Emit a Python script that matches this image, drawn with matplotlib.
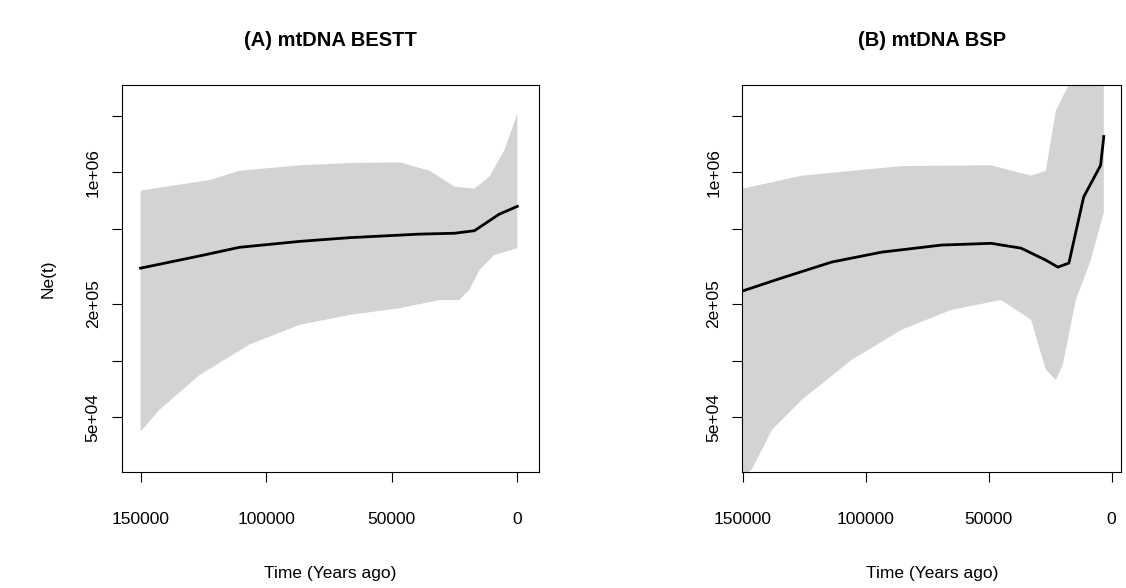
import numpy as np
import matplotlib.pyplot as plt

plt.rcParams['font.family'] = ['Liberation Sans', 'DejaVu Sans']

# panel A: mtDNA BESTT
a_med_t = [150000, 126500, 110600, 86700, 66800, 39000, 25000, 17100, 7200, 0]
a_med = [3.1e5, 3.6e5, 4.0e5, 4.3e5, 4.5e5, 4.7e5, 4.75e5, 4.9e5, 6.0e5, 6.6e5]
a_up_t = [150000, 122500, 110600, 86700, 66800, 46900, 35000, 25000, 17100, 11100, 5200, 0]
a_up = [8.0e5, 9.1e5, 1.02e6, 1.09e6, 1.12e6, 1.13e6, 1.02e6, 8.4e5, 8.2e5, 9.5e5, 1.31e6, 2.05e6]
a_lo_t = [150000, 142400, 126500, 106600, 86700, 66800, 46900, 31000, 23100, 19100, 15100, 9200, 0]
a_lo = [4.2e4, 5.5e4, 8.4e4, 1.22e5, 1.55e5, 1.75e5, 1.9e5, 2.1e5, 2.1e5, 2.38e5, 3.03e5, 3.64e5, 3.96e5]

# panel B: mtDNA BSP
b_med_t = [150000, 134200, 113900, 93600, 69300, 49100, 36900, 26800, 21900, 17400, 11400, 4500, 3200]
b_med = [2.35e5, 2.75e5, 3.34e5, 3.77e5, 4.11e5, 4.2e5, 3.96e5, 3.42e5, 3.14e5, 3.3e5, 7.4e5, 1.09e6, 1.55e6]
b_up_t = [150000, 126100, 85500, 49100, 32800, 26800, 22700, 16600, 3200]
b_up = [8.2e5, 9.6e5, 1.08e6, 1.09e6, 9.6e5, 1.02e6, 2.13e6, 3.07e6, 3.9e6]
b_lo_t = [151600, 146400, 138200, 126100, 105800, 85500, 65300, 45000, 32800, 26800, 22700, 19900, 14600, 8500, 3200]
b_lo = [2.35e4, 2.65e4, 4.3e4, 6.2e4, 1.01e5, 1.46e5, 1.86e5, 2.1e5, 1.65e5, 8.96e4, 7.9e4, 9.5e4, 2.1e5, 3.42e5, 6.14e5]

fig = plt.figure(figsize=(11.26, 5.88), dpi=100)
axA = fig.add_axes([0.108, 0.197, 0.371, 0.658])
axB = fig.add_axes([0.659, 0.197, 0.337, 0.658])


def band(ax, ut, u, lt, l):
    t = np.concatenate([ut, lt[::-1]])
    v = np.concatenate([u, l[::-1]])
    ax.fill(t, v, color='#d3d3d3', lw=0)


band(axA, np.array(a_up_t), np.array(a_up), np.array(a_lo_t), np.array(a_lo))
axA.plot(a_med_t, a_med, color='black', lw=2)
band(axB, np.array(b_up_t), np.array(b_up), np.array(b_lo_t), np.array(b_lo))
axB.plot(b_med_t, b_med, color='black', lw=2)

yt = [5e4, 1e5, 2e5, 5e5, 1e6, 2e6]
yl = ['5e+04', '', '2e+05', '', '1e+06', '']
for ax, xl, title in [(axA, (157560, -8750), '(A) mtDNA BESTT'),
                      (axB, (150400, -4000), '(B) mtDNA BSP')]:
    ax.set_yscale('log')
    ax.set_ylim(2.56e4, 2.9e6)
    ax.set_xlim(*xl)
    ax.set_yticks(yt)
    ax.set_yticklabels(yl, rotation=90, va='center', fontsize=12.5)
    ax.minorticks_off()
    ax.set_xticks([150000, 100000, 50000, 0])
    ax.set_xticklabels(['150000', '100000', '50000', '0'], fontsize=12.5)
    ax.tick_params(length=7)
    ax.tick_params(axis='x', pad=22)
    ax.tick_params(axis='y', pad=8)
    ax.set_xlabel('Time (Years ago)', fontsize=12.5, labelpad=28)
    ax.set_title(title, fontsize=14.5, fontweight='bold', pad=28)

axA.set_ylabel('Ne(t)', fontsize=12.5, labelpad=22)

fig.savefig('out.png', dpi=100)
